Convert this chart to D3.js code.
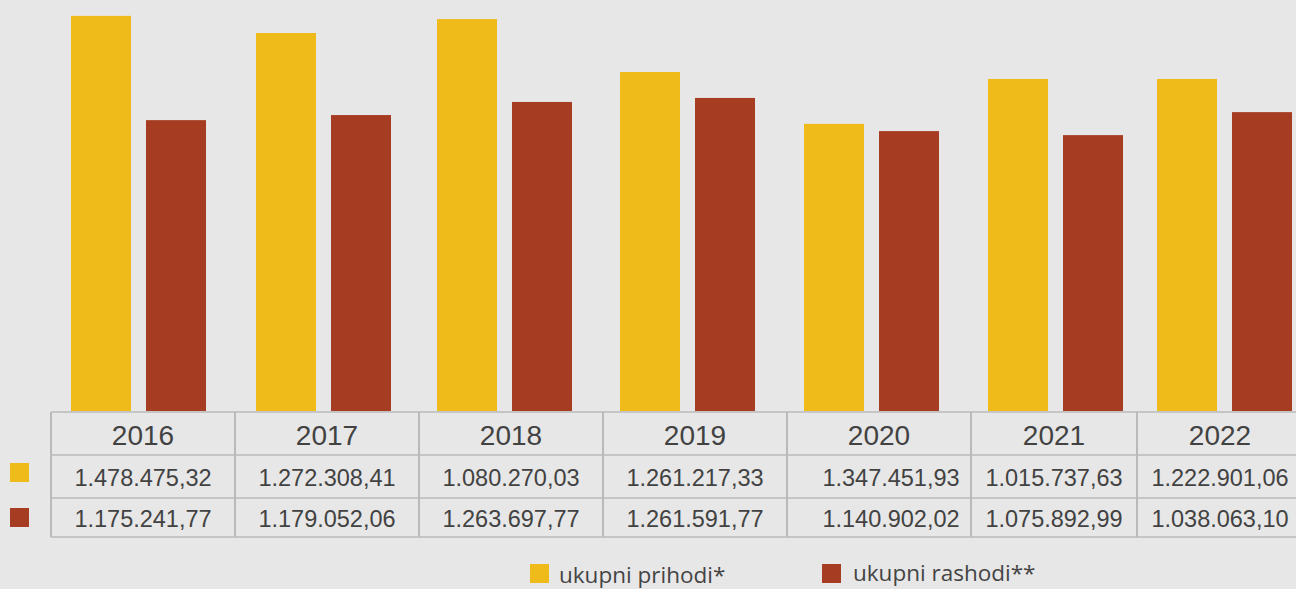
<!DOCTYPE html>
<html>
<head>
    <style>
        body { margin: 0; background: #e7e7e7; }
        svg { display: block; }
        .cell text { font-family: "Liberation Sans", Arial, sans-serif; fill: #424242; text-anchor: middle; }
        .legend text { font-family: "Open Sans", sans-serif; fill: #444; font-size: 22.5px; }
    </style>
    <script src="https://d3js.org/d3.v7.min.js"></script>
</head>
<body>
    <svg width="1296" height="589"></svg>
    <script>
        // data
        var years = ["2016", "2017", "2018", "2019", "2020", "2021", "2022"];
        // bar heights as drawn (thousands)
        var barPrihodi = [1478, 1414, 1466, 1268, 1074, 1242, 1242];
        var barRashodi = [1088, 1107, 1156, 1171, 1047, 1032, 1118];
        // table values
        var tablePrihodi = ["1.478.475,32", "1.272.308,41", "1.080.270,03", "1.261.217,33", "1.347.451,93", "1.015.737,63", "1.222.901,06"];
        var tableRashodi = ["1.175.241,77", "1.179.052,06", "1.263.697,77", "1.261.591,77", "1.140.902,02", "1.075.892,99", "1.038.063,10"];
        var seriesNames = ["ukupni prihodi*", "ukupni rashodi**"];

        var colors = ["#efbb1b", "#a63c22"];
        var colWidths = [184, 184, 184, 184, 184, 166, 166];
        var barShift = [0, 1, -2, -3, -3, 6, 9]; // bars sit a bit off the column centres
        var tableLeft = 51, tableTop = 412, rowBottoms = [455, 498, 537];

        var svg = d3.select("svg");

        // column edges / centers
        var edges = [tableLeft];
        colWidths.forEach(function(w, i) { edges.push(edges[i] + w); });
        var centers = years.map(function(d, i) { return (edges[i] + edges[i + 1]) / 2; });
        var x = d3.scaleOrdinal().domain(years).range(centers);

        var sub = d3.scaleBand().domain([0, 1]).range([-72, 63]).paddingInner(0.2);
        var y = d3.scaleLinear().domain([0, 1500]).range([411, 10]);

        var rows = years.map(function(d, i) { return { year: d, shift: barShift[i], vals: [barPrihodi[i], barRashodi[i]] }; });

        var groups = svg.append("g").selectAll("g")
            .data(rows).enter().append("g")
            .attr("transform", function(d) { return "translate(" + (x(d.year) + d.shift) + ",0)"; });

        groups.selectAll("rect")
            .data(function(d) { return d.vals; })
            .enter().append("rect")
            .attr("x", function(d, i) { return sub(i); })
            .attr("width", sub.bandwidth())
            .attr("y", function(d) { return y(d); })
            .attr("height", function(d) { return y(0) - y(d); })
            .attr("fill", function(d, i) { return colors[i]; });

        // table
        var table = svg.append("g").attr("class", "cell");
        var lineColor = "#bababa";
        [tableTop].concat(rowBottoms).forEach(function(yy) {
            table.append("line").attr("x1", tableLeft).attr("x2", 1310)
                .attr("y1", yy).attr("y2", yy)
                .attr("stroke", lineColor).attr("stroke-width", 1.6);
        });
        edges.forEach(function(xx) {
            table.append("line").attr("x1", xx).attr("x2", xx)
                .attr("y1", tableTop).attr("y2", rowBottoms[2])
                .attr("stroke", lineColor).attr("stroke-width", 2);
        });

        table.selectAll(".yr").data(years).enter().append("text")
            .attr("x", function(d) { return x(d); })
            .attr("y", 445)
            .style("font-size", "28px")
            .text(function(d) { return d; });

        var shift = function(i) { return years[i] === "2020" ? 12 : 0; };
        table.selectAll(".p").data(tablePrihodi).enter().append("text")
            .attr("x", function(d, i) { return centers[i] + shift(i); })
            .attr("y", 486)
            .style("font-size", "23.5px")
            .text(function(d) { return d; });
        table.selectAll(".r").data(tableRashodi).enter().append("text")
            .attr("x", function(d, i) { return centers[i] + shift(i); })
            .attr("y", 526.5)
            .style("font-size", "23.5px")
            .text(function(d) { return d; });

        // row keys
        svg.append("rect").attr("x", 10).attr("y", 463).attr("width", 19).attr("height", 19).attr("fill", colors[0]);
        svg.append("rect").attr("x", 10).attr("y", 508).attr("width", 19).attr("height", 19).attr("fill", colors[1]);

        // legend
        var legend = svg.append("g").attr("class", "legend");
        var legendPos = [{ x: 530, y: 564, tx: 559, ty: 583 }, { x: 822, y: 564, tx: 853, ty: 581 }];
        seriesNames.forEach(function(name, i) {
            legend.append("rect").attr("x", legendPos[i].x).attr("y", legendPos[i].y)
                .attr("width", 19).attr("height", 19).attr("fill", colors[i]);
            legend.append("text").attr("x", legendPos[i].tx).attr("y", legendPos[i].ty)
                .text(name);
        });
    </script>
</body>
</html>
